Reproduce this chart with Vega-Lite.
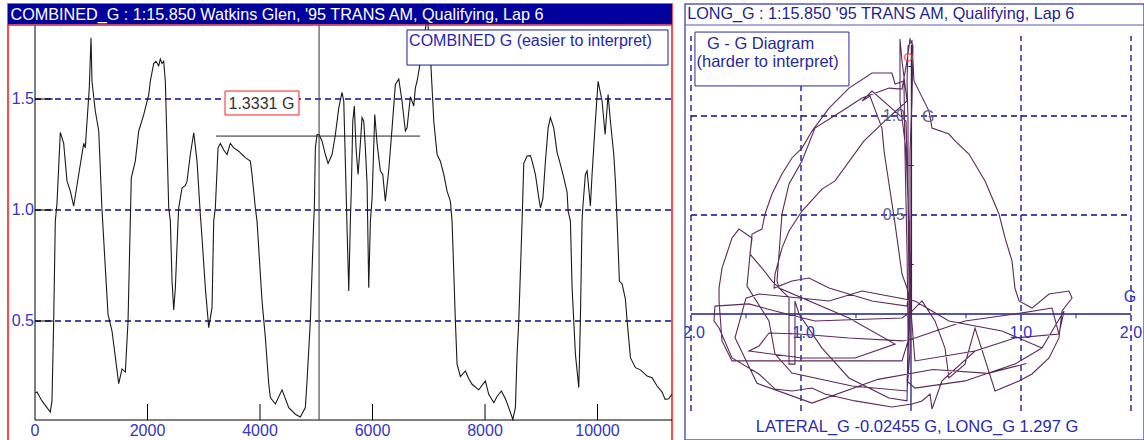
{
  "$schema": "https://vega.github.io/schema/vega-lite/v6.json",
  "background": "white",
  "padding": {"left": 6, "top": 3, "right": 0, "bottom": 0},
  "spacing": 13,
  "bounds": "flush",
  "config": {"font": "Liberation Sans", "view": {"stroke": null}},
  "hconcat": [
    {
      "width": 664,
      "height": 437,
      "view": {"stroke": "#ff1010", "strokeWidth": 1.5},
      "layer": [
        {
          "data": {"values": [{"g": 0.5}, {"g": 1.0}, {"g": 1.5}]},
          "mark": {"type": "rule", "color": "#0c0c8c", "strokeDash": [6, 4], "strokeWidth": 1.3},
          "encoding": {
            "y": {"field": "g", "type": "quantitative", "scale": {"domain": [-0.0405, 1.928], "nice": false, "zero": false}, "axis": null},
            "x": {"datum": 0, "scale": {"domain": [-480, 11324], "nice": false, "zero": false}, "axis": null},
            "x2": {"datum": 11330}
          }
        },
        {
          "data": {"values": [
            {"d":5,"g":0.177},{"d":36,"g":0.18},{"d":124,"g":0.14},{"d":213,"g":0.11},{"d":272,"g":0.09},{"d":302,"g":0.14},{"d":332,"g":0.5},{"d":361,"g":0.95},{"d":391,"g":1.03},{"d":450,"g":1.35},{"d":510,"g":1.30},{"d":569,"g":1.13},{"d":628,"g":1.085},{"d":688,"g":1.018},{"d":777,"g":1.16},{"d":866,"g":1.30},{"d":894,"g":1.28},{"d":925,"g":1.40},{"d":965,"g":1.55},{"d":996,"g":1.776},{"d":1013,"g":1.58},{"d":1072,"g":1.446},{"d":1133,"g":1.356},{"d":1191,"g":1.0},{"d":1298,"g":0.53},{"d":1369,"g":0.455},{"d":1488,"g":0.218},{"d":1547,"g":0.284},{"d":1606,"g":0.27},{"d":1654,"g":0.5},{"d":1694,"g":0.95},{"d":1712,"g":1.145},{"d":1783,"g":1.22},{"d":1844,"g":1.356},{"d":1933,"g":1.43},{"d":2022,"g":1.52},{"d":2050,"g":1.58},{"d":2110,"g":1.66},{"d":2151,"g":1.67},{"d":2199,"g":1.65},{"d":2228,"g":1.68},{"d":2258,"g":1.66},{"d":2288,"g":1.67},{"d":2317,"g":1.58},{"d":2377,"g":1.01},{"d":2406,"g":0.95},{"d":2436,"g":0.68},{"d":2466,"g":0.55},{"d":2495,"g":0.65},{"d":2543,"g":0.95},{"d":2555,"g":1.01},{"d":2614,"g":1.10},{"d":2672,"g":1.11},{"d":2703,"g":1.13},{"d":2761,"g":1.25},{"d":2822,"g":1.348},{"d":2880,"g":1.22},{"d":2939,"g":0.98},{"d":2969,"g":0.875},{"d":3028,"g":0.65},{"d":3088,"g":0.47},{"d":3147,"g":0.56},{"d":3177,"g":0.95},{"d":3206,"g":1.01},{"d":3254,"g":1.28},{"d":3295,"g":1.30},{"d":3355,"g":1.27},{"d":3414,"g":1.25},{"d":3472,"g":1.30},{"d":3533,"g":1.28},{"d":3622,"g":1.265},{"d":3681,"g":1.25},{"d":3739,"g":1.236},{"d":3828,"g":1.22},{"d":3858,"g":1.16},{"d":3917,"g":1.01},{"d":3947,"g":0.95},{"d":4036,"g":0.59},{"d":4095,"g":0.425},{"d":4155,"g":0.216},{"d":4184,"g":0.155},{"d":4273,"g":0.126},{"d":4392,"g":0.19},{"d":4511,"g":0.11},{"d":4628,"g":0.08},{"d":4717,"g":0.068},{"d":4806,"g":0.11},{"d":4836,"g":0.23},{"d":4895,"g":0.5},{"d":4955,"g":0.95},{"d":4966,"g":1.01},{"d":4984,"g":1.28},{"d":5014,"g":1.34},{"d":5050,"g":1.34},{"d":5103,"g":1.31},{"d":5162,"g":1.25},{"d":5210,"g":1.21},{"d":5281,"g":1.25},{"d":5340,"g":1.34},{"d":5400,"g":1.46},{"d":5458,"g":1.53},{"d":5489,"g":1.49},{"d":5517,"g":1.22},{"d":5547,"g":0.92},{"d":5578,"g":0.635},{"d":5606,"g":0.95},{"d":5624,"g":1.1},{"d":5649,"g":1.40},{"d":5677,"g":1.468},{"d":5707,"g":1.28},{"d":5743,"g":1.16},{"d":5784,"g":1.30},{"d":5814,"g":1.416},{"d":5844,"g":1.40},{"d":5873,"g":1.28},{"d":5903,"g":1.12},{"d":5933,"g":0.65},{"d":5962,"g":0.95},{"d":5992,"g":1.05},{"d":6040,"g":1.43},{"d":6081,"g":1.30},{"d":6140,"g":1.176},{"d":6182,"g":1.16},{"d":6228,"g":1.04},{"d":6289,"g":1.18},{"d":6348,"g":1.37},{"d":6406,"g":1.566},{"d":6467,"g":1.59},{"d":6525,"g":1.49},{"d":6584,"g":1.356},{"d":6614,"g":1.37},{"d":6673,"g":1.51},{"d":6703,"g":1.49},{"d":6733,"g":1.468},{"d":6762,"g":1.55},{"d":6792,"g":1.58},{"d":6833,"g":1.64},{"d":6868,"g":1.70},{"d":6916,"g":1.78},{"d":6975,"g":1.87},{"d":7028,"g":1.70},{"d":7059,"g":1.55},{"d":7089,"g":1.40},{"d":7148,"g":1.25},{"d":7206,"g":1.22},{"d":7267,"g":1.16},{"d":7325,"g":1.085},{"d":7384,"g":1.04},{"d":7414,"g":0.95},{"d":7444,"g":0.725},{"d":7473,"g":0.5},{"d":7503,"g":0.306},{"d":7562,"g":0.25},{"d":7651,"g":0.275},{"d":7711,"g":0.24},{"d":7770,"g":0.215},{"d":7889,"g":0.19},{"d":8006,"g":0.23},{"d":8066,"g":0.17},{"d":8156,"g":0.132},{"d":8214,"g":0.16},{"d":8291,"g":0.185},{"d":8362,"g":0.15},{"d":8422,"g":0.11},{"d":8494,"g":0.057},{"d":8540,"g":0.11},{"d":8570,"g":0.35},{"d":8600,"g":0.5},{"d":8659,"g":0.95},{"d":8689,"g":1.21},{"d":8748,"g":1.243},{"d":8807,"g":1.245},{"d":8837,"g":1.22},{"d":8896,"g":1.16},{"d":8956,"g":1.055},{"d":8986,"g":1.01},{"d":9028,"g":1.05},{"d":9074,"g":1.22},{"d":9122,"g":1.37},{"d":9162,"g":1.416},{"d":9222,"g":1.37},{"d":9281,"g":1.26},{"d":9340,"g":1.206},{"d":9400,"g":1.146},{"d":9459,"g":1.08},{"d":9477,"g":0.995},{"d":9518,"g":0.95},{"d":9548,"g":0.65},{"d":9607,"g":0.35},{"d":9667,"g":0.2},{"d":9695,"g":0.5},{"d":9725,"g":0.95},{"d":9738,"g":1.01},{"d":9784,"g":1.16},{"d":9815,"g":1.176},{"d":9873,"g":1.018},{"d":9903,"g":1.16},{"d":9962,"g":1.40},{"d":10010,"g":1.58},{"d":10081,"g":1.49},{"d":10135,"g":1.34},{"d":10188,"g":1.52},{"d":10229,"g":1.40},{"d":10289,"g":1.25},{"d":10318,"g":1.13},{"d":10348,"g":0.95},{"d":10389,"g":0.68},{"d":10437,"g":0.667},{"d":10495,"g":0.6},{"d":10526,"g":0.5},{"d":10585,"g":0.335},{"d":10674,"g":0.29},{"d":10763,"g":0.28},{"d":10881,"g":0.252},{"d":10970,"g":0.245},{"d":11059,"g":0.207},{"d":11148,"g":0.18},{"d":11202,"g":0.147},{"d":11267,"g":0.15},{"d":11320,"g":0.17}
          ]},
          "mark": {"type": "line", "color": "#1a1a1a", "strokeWidth": 1.1},
          "encoding": {
            "x": {"field": "d", "type": "quantitative", "axis": null},
            "y": {"field": "g", "type": "quantitative", "axis": null}
          }
        },
        {
          "data": {"values": [{}]},
          "mark": {"type": "rule", "color": "#000000", "strokeWidth": 1},
          "encoding": {"x": {"datum": 0, "axis": null}, "y": {"datum": 0.054, "axis": null}, "y2": {"datum": 1.833}}
        },
        {
          "data": {"values": [{}]},
          "mark": {"type": "rule", "color": "#000000", "strokeWidth": 1},
          "encoding": {"x": {"datum": 0, "axis": null}, "x2": {"datum": 11324}, "y": {"datum": 0.054, "axis": null}}
        },
        {
          "data": {"values": [{"d": 2000}, {"d": 4000}, {"d": 6000}, {"d": 8000}, {"d": 10000}]},
          "mark": {"type": "rule", "color": "#000000", "strokeWidth": 1},
          "encoding": {"x": {"field": "d", "type": "quantitative", "axis": null}, "y": {"datum": 0.054, "axis": null}, "y2": {"datum": 0.126}}
        },
        {
          "data": {"values": [{"g": 0.5}, {"g": 1.0}, {"g": 1.5}]},
          "mark": {"type": "rule", "color": "#000000", "strokeWidth": 1},
          "encoding": {"y": {"field": "g", "type": "quantitative", "axis": null}, "x": {"datum": 0, "axis": null}, "x2": {"datum": 320}}
        },
        {
          "data": {"values": [{"d": 0, "t": "0"}, {"d": 2000, "t": "2000"}, {"d": 4000, "t": "4000"}, {"d": 6000, "t": "6000"}, {"d": 8000, "t": "8000"}, {"d": 10000, "t": "10000"}]},
          "mark": {"type": "text", "color": "#3434c4", "fontSize": 16, "align": "center", "baseline": "middle", "font": "Liberation Sans"},
          "encoding": {"text": {"field": "t"}, "x": {"field": "d", "type": "quantitative", "axis": null}, "y": {"datum": 0.004, "axis": null}}
        },
        {
          "data": {"values": [{"g": 0.5, "t": "0.5"}, {"g": 1.0, "t": "1.0"}, {"g": 1.5, "t": "1.5"}]},
          "mark": {"type": "text", "color": "#3434c4", "fontSize": 16, "align": "right", "baseline": "middle", "font": "Liberation Sans"},
          "encoding": {"text": {"field": "t"}, "y": {"field": "g", "type": "quantitative", "axis": null}, "x": {"datum": -20, "axis": null}}
        },
        {
          "data": {"values": [{"d": 5050}]},
          "mark": {"type": "rule", "color": "#505050", "strokeWidth": 1.2},
          "encoding": {"x": {"field": "d", "type": "quantitative", "axis": null}, "y": {"datum": 0.054, "axis": null}, "y2": {"datum": 1.833}}
        },
        {
          "data": {"values": [{"g": 1.3331}]},
          "mark": {"type": "rule", "color": "#202020", "strokeWidth": 1},
          "encoding": {"y": {"field": "g", "type": "quantitative", "axis": null}, "x": {"datum": 3218, "axis": null}, "x2": {"datum": 6845}}
        },
        {
          "data": {"values": [{}]},
          "mark": {"type": "rect", "color": "#00009c"},
          "encoding": {"x": {"datum": -480, "axis": null}, "x2": {"datum": 11324}, "y": {"datum": 1.8356, "axis": null}, "y2": {"datum": 1.928}}
        },
        {
          "data": {"values": [{}]},
          "mark": {"type": "rule", "color": "#ff1010", "strokeWidth": 1.2},
          "encoding": {"x": {"datum": -480, "axis": null}, "x2": {"datum": 11324}, "y": {"datum": 1.833, "axis": null}}
        },
        {
          "data": {"values": [{"t": "COMBINED_G : 1:15.850 Watkins Glen, '95 TRANS AM, Qualifying, Lap 6"}]},
          "mark": {"type": "text", "color": "#ffffff", "fontSize": 16.2, "align": "left", "baseline": "middle", "font": "Liberation Sans"},
          "encoding": {"text": {"field": "t"}, "x": {"datum": -436, "axis": null}, "y": {"datum": 1.8806, "axis": null}}
        },
        {
          "data": {"values": [{}]},
          "mark": {"type": "rect", "fill": "#ffffff", "stroke": "#1c1c9c", "strokeWidth": 1},
          "encoding": {"x": {"datum": 6613, "axis": null}, "x2": {"datum": 11253}, "y": {"datum": 1.653, "axis": null}, "y2": {"datum": 1.811}}
        },
        {
          "data": {"values": [{"t": "COMBINED G (easier to interpret)"}]},
          "mark": {"type": "text", "color": "#2626b4", "fontSize": 16, "align": "left", "baseline": "middle", "font": "Liberation Sans"},
          "encoding": {"text": {"field": "t"}, "x": {"datum": 6650, "axis": null}, "y": {"datum": 1.76, "axis": null}}
        },
        {
          "data": {"values": [{}]},
          "mark": {"type": "rect", "fill": "#ffffff", "stroke": "#ff2020", "strokeWidth": 1},
          "encoding": {"x": {"datum": 3378, "axis": null}, "x2": {"datum": 4693}, "y": {"datum": 1.428, "axis": null}, "y2": {"datum": 1.536}}
        },
        {
          "data": {"values": [{"t": "1.3331 G"}]},
          "mark": {"type": "text", "color": "#333333", "fontSize": 16, "align": "left", "baseline": "middle", "font": "Liberation Sans"},
          "encoding": {"text": {"field": "t"}, "x": {"datum": 3440, "axis": null}, "y": {"datum": 1.479, "axis": null}}
        }
      ]
    },
    {
      "width": 459,
      "height": 436,
      "view": {"stroke": "#5a5ab4", "strokeWidth": 1.5},
      "layer": [
        {
          "data": {"values": [{"lat": -2}, {"lat": -1}, {"lat": 1}, {"lat": 2}]},
          "mark": {"type": "rule", "color": "#0c0c8c", "strokeDash": [6, 4], "strokeWidth": 1.3},
          "encoding": {
            "x": {"field": "lat", "type": "quantitative", "scale": {"domain": [-2.0545, 2.1182], "nice": false, "zero": false}, "axis": null},
            "y": {"datum": -0.49, "scale": {"domain": [-0.6364, 1.5657], "nice": false, "zero": false}, "axis": null},
            "y2": {"datum": 1.404}
          }
        },
        {
          "data": {"values": [{"lng": 0.5}, {"lng": 1.0}]},
          "mark": {"type": "rule", "color": "#0c0c8c", "strokeDash": [6, 4], "strokeWidth": 1.3},
          "encoding": {"y": {"field": "lng", "type": "quantitative", "axis": null}, "x": {"datum": -2, "axis": null}, "x2": {"datum": 2}}
        },
        {
          "data": {"values": [{}]},
          "mark": {"type": "rule", "color": "#1e1e90", "strokeWidth": 1.4},
          "encoding": {"y": {"datum": 0, "axis": null}, "x": {"datum": -2, "axis": null}, "x2": {"datum": 2}}
        },
        {
          "data": {"values": [{}]},
          "mark": {"type": "rule", "color": "#1e1e90", "strokeWidth": 1.3},
          "encoding": {"x": {"datum": 0, "axis": null}, "y": {"datum": -0.49, "axis": null}, "y2": {"datum": 0}}
        },
        {
          "data": {"values": [{}]},
          "mark": {"type": "rule", "color": "#3a1f48", "strokeWidth": 1.3},
          "encoding": {"x": {"datum": 0.004, "axis": null}, "y": {"datum": 0, "axis": null}, "y2": {"datum": 1.36}}
        },
        {
          "data": {"values": [{"lat": -1.5}, {"lat": -0.5}, {"lat": 0.5}, {"lat": 1.5}]},
          "mark": {"type": "rule", "color": "#1e1e90", "strokeWidth": 1},
          "encoding": {"x": {"field": "lat", "type": "quantitative", "axis": null}, "y": {"datum": 0, "axis": null}, "y2": {"datum": -0.022}}
        },
        {
          "data": {"values": [{"lng": 0.25}, {"lng": 0.75}, {"lng": 1.25}]},
          "mark": {"type": "rule", "color": "#1e1e90", "strokeWidth": 1},
          "encoding": {"y": {"field": "lng", "type": "quantitative", "axis": null}, "x": {"datum": -0.025, "axis": null}, "x2": {"datum": 0.025}}
        },
        {
          "data": {"values": [
            {"i":1,"lat":1.191,"lng":-0.172},{"i":2,"lat":0.945,"lng":-0.253},{"i":3,"lat":0.491,"lng":-0.338},{"i":4,"lat":0.036,"lng":-0.374},{"i":5,"lat":-0.036,"lng":-0.338},{"i":6,"lat":-0.027,"lng":-0.237},{"i":7,"lat":-0.018,"lng":-0.035},{"i":8,"lat":-0.018,"lng":0.318},{"i":9,"lat":-0.027,"lng":0.672},{"i":10,"lat":-0.027,"lng":0.975},
            {"i":11,"lat":-0.036,"lng":1.177},{"i":12,"lat":-0.027,"lng":1.354},{"i":13,"lat":0.009,"lng":1.379},{"i":14,"lat":0.027,"lng":1.177},{"i":15,"lat":0.164,"lng":1.025},{"i":16,"lat":0.191,"lng":0.939},{"i":17,"lat":0.345,"lng":0.909},{"i":18,"lat":0.4,"lng":0.874},{"i":19,"lat":0.527,"lng":0.808},{"i":20,"lat":0.673,"lng":0.672},
            {"i":21,"lat":0.8,"lng":0.505},{"i":22,"lat":0.855,"lng":0.384},{"i":23,"lat":0.918,"lng":0.268},{"i":24,"lat":0.945,"lng":0.131},{"i":25,"lat":0.982,"lng":0.066},{"i":26,"lat":1.1,"lng":0.03},{"i":27,"lat":1.255,"lng":0.101},{"i":28,"lat":1.436,"lng":0.116},{"i":29,"lat":1.464,"lng":0.081},{"i":30,"lat":1.373,"lng":0.015},
            {"i":31,"lat":1.345,"lng":-0.121},{"i":32,"lat":1.255,"lng":-0.222},{"i":33,"lat":1.1,"lng":-0.303},{"i":34,"lat":0.982,"lng":-0.338},{"i":35,"lat":0.764,"lng":-0.389},{"i":36,"lat":0.582,"lng":-0.071},{"i":37,"lat":0.491,"lng":-0.253},{"i":38,"lat":0.345,"lng":-0.323},{"i":39,"lat":0.309,"lng":-0.172},{"i":40,"lat":0.218,"lng":-0.035},
            {"i":41,"lat":0.1,"lng":0.066},{"i":42,"lat":0.009,"lng":0.015},{"i":43,"lat":-0.082,"lng":-0.02},{"i":44,"lat":-0.355,"lng":-0.025},{"i":45,"lat":-0.873,"lng":-0.035},{"i":46,"lat":-1.236,"lng":0.015},{"i":47,"lat":-1.473,"lng":0.051},{"i":48,"lat":-1.782,"lng":0.04},{"i":49,"lat":-1.791,"lng":-0.035},{"i":50,"lat":-1.745,"lng":-0.071},
            {"i":51,"lat":-1.627,"lng":-0.222},{"i":52,"lat":-1.382,"lng":-0.303},{"i":53,"lat":-1.236,"lng":-0.379},{"i":54,"lat":-1.082,"lng":-0.389},{"i":55,"lat":-0.9,"lng":-0.374},{"i":56,"lat":-0.782,"lng":-0.404},{"i":57,"lat":-0.509,"lng":-0.439},{"i":58,"lat":-0.173,"lng":-0.47},{"i":59,"lat":0.009,"lng":-0.455},{"i":60,"lat":0.1,"lng":-0.439},
            {"i":61,"lat":0.173,"lng":-0.404},{"i":62,"lat":0.191,"lng":-0.48},{"i":63,"lat":0.282,"lng":-0.338},{"i":64,"lat":0.582,"lng":-0.187},{"i":65,"lat":0.945,"lng":-0.121},{"i":66,"lat":1.345,"lng":-0.101},{"i":67,"lat":1.282,"lng":0.03},{"i":68,"lat":0.945,"lng":0.0},{"i":69,"lat":0.491,"lng":-0.035},{"i":70,"lat":0.036,"lng":-0.121},
            {"i":71,"lat":-0.082,"lng":-0.136},{"i":72,"lat":-0.564,"lng":-0.121},{"i":73,"lat":-1.018,"lng":-0.101},{"i":74,"lat":-1.291,"lng":-0.096},{"i":75,"lat":-1.382,"lng":-0.162},{"i":76,"lat":-1.473,"lng":-0.187},{"i":77,"lat":-0.991,"lng":-0.222},{"i":78,"lat":-0.509,"lng":-0.222},{"i":79,"lat":-0.145,"lng":-0.152},{"i":80,"lat":-0.564,"lng":-0.02},
            {"i":81,"lat":-1.2,"lng":0.131},{"i":82,"lat":-1.218,"lng":0.167},{"i":83,"lat":-1.191,"lng":0.369},{"i":84,"lat":-1.173,"lng":0.505},{"i":85,"lat":-1.109,"lng":0.657},{"i":86,"lat":-0.991,"lng":0.773},{"i":87,"lat":-0.873,"lng":0.939},{"i":88,"lat":-0.627,"lng":1.025},{"i":89,"lat":-0.445,"lng":1.091},{"i":90,"lat":-0.2,"lng":1.141},
            {"i":91,"lat":-0.082,"lng":1.136},{"i":92,"lat":-0.036,"lng":1.278},{"i":93,"lat":-0.009,"lng":1.389},{"i":94,"lat":0.018,"lng":1.354},{"i":95,"lat":0.009,"lng":1.076},{"i":96,"lat":-0.009,"lng":0.823},{"i":97,"lat":-0.009,"lng":0.419},{"i":98,"lat":0.0,"lng":0.066},{"i":99,"lat":-0.027,"lng":-0.136},{"i":100,"lat":-0.082,"lng":-0.237},
            {"i":101,"lat":-0.718,"lng":-0.237},{"i":102,"lat":-1.173,"lng":-0.237},{"i":103,"lat":-1.627,"lng":-0.237},{"i":104,"lat":-1.718,"lng":-0.136},{"i":105,"lat":-1.745,"lng":0.066},{"i":106,"lat":-1.745,"lng":0.131},{"i":107,"lat":-1.718,"lng":0.232},{"i":108,"lat":-1.627,"lng":0.384},{"i":109,"lat":-1.564,"lng":0.429},{"i":110,"lat":-1.445,"lng":0.384},
            {"i":111,"lat":-1.464,"lng":0.303},{"i":112,"lat":-1.355,"lng":0.232},{"i":113,"lat":-1.264,"lng":0.167},{"i":114,"lat":-1.109,"lng":0.081},{"i":115,"lat":-1.109,"lng":-0.253},{"i":116,"lat":-1.055,"lng":-0.253},{"i":117,"lat":-1.055,"lng":0.066},{"i":118,"lat":-1.018,"lng":0.0},{"i":119,"lat":-0.809,"lng":-0.172},{"i":120,"lat":-0.564,"lng":-0.323},
            {"i":121,"lat":-0.2,"lng":-0.424},{"i":122,"lat":-0.036,"lng":-0.439},{"i":123,"lat":-0.027,"lng":-0.086},{"i":124,"lat":-0.036,"lng":0.318},{"i":125,"lat":-0.055,"lng":0.823},{"i":126,"lat":-0.064,"lng":1.177},{"i":127,"lat":-0.145,"lng":1.162},{"i":128,"lat":-0.173,"lng":1.217},{"i":129,"lat":-0.355,"lng":1.217},{"i":130,"lat":-0.564,"lng":1.141},
            {"i":131,"lat":-0.745,"lng":1.04},{"i":132,"lat":-0.9,"lng":0.924},{"i":133,"lat":-0.991,"lng":0.838},{"i":134,"lat":-1.082,"lng":0.788},{"i":135,"lat":-1.173,"lng":0.707},{"i":136,"lat":-1.264,"lng":0.606},{"i":137,"lat":-1.327,"lng":0.505},{"i":138,"lat":-1.355,"lng":0.429},{"i":139,"lat":-1.445,"lng":0.404},{"i":140,"lat":-1.491,"lng":0.141},
            {"i":141,"lat":-1.291,"lng":-0.035},{"i":142,"lat":-1.236,"lng":-0.202},{"i":143,"lat":-1.082,"lng":-0.298},{"i":144,"lat":-0.536,"lng":-0.364},{"i":145,"lat":-0.036,"lng":-0.389},{"i":146,"lat":-0.009,"lng":-0.187},{"i":147,"lat":-0.009,"lng":0.318},{"i":148,"lat":-0.045,"lng":0.823},{"i":149,"lat":-0.1,"lng":1.076},{"i":150,"lat":-0.1,"lng":1.389},
            {"i":151,"lat":-0.082,"lng":1.278},{"i":152,"lat":-0.036,"lng":1.076},{"i":153,"lat":-0.218,"lng":0.985},{"i":154,"lat":-0.427,"lng":0.874},{"i":155,"lat":-0.691,"lng":0.672},{"i":156,"lat":-0.809,"lng":0.631},{"i":157,"lat":-0.991,"lng":0.52},{"i":158,"lat":-1.109,"lng":0.419},{"i":159,"lat":-1.173,"lng":0.333},{"i":160,"lat":-1.236,"lng":0.202},
            {"i":161,"lat":-1.245,"lng":0.131},{"i":162,"lat":-1.082,"lng":0.167},{"i":163,"lat":-0.927,"lng":0.182},{"i":164,"lat":-0.745,"lng":0.131},{"i":165,"lat":-0.355,"lng":0.066},{"i":166,"lat":-0.036,"lng":0.04},{"i":167,"lat":-0.018,"lng":0.116},{"i":168,"lat":-0.027,"lng":0.571},{"i":169,"lat":-0.045,"lng":0.975},{"i":170,"lat":-0.355,"lng":1.126},
            {"i":171,"lat":-0.445,"lng":1.076},{"i":172,"lat":-0.373,"lng":1.101},{"i":173,"lat":-0.264,"lng":0.939},{"i":174,"lat":-0.245,"lng":0.823},{"i":175,"lat":-0.145,"lng":0.455},{"i":176,"lat":-0.082,"lng":0.202},{"i":177,"lat":-0.036,"lng":0.131},{"i":178,"lat":0.0,"lng":0.015},{"i":179,"lat":0.036,"lng":-0.237},{"i":180,"lat":0.582,"lng":-0.187},
            {"i":181,"lat":0.945,"lng":-0.121},{"i":182,"lat":1.345,"lng":-0.101},{"i":183,"lat":1.391,"lng":0.015},{"i":184,"lat":1.191,"lng":-0.172},{"i":185,"lat":0.827,"lng":-0.086},{"i":186,"lat":0.345,"lng":-0.035},{"i":187,"lat":0.036,"lng":0.066},{"i":188,"lat":-0.445,"lng":0.116},{"i":189,"lat":-0.745,"lng":0.066},{"i":190,"lat":-1.382,"lng":0.101},
            {"i":191,"lat":-1.5,"lng":0.08},{"i":192,"lat":-1.6,"lng":-0.12},{"i":193,"lat":-1.4,"lng":-0.35},{"i":194,"lat":-0.9,"lng":-0.45},{"i":195,"lat":-0.3,"lng":-0.33},{"i":196,"lat":0.2,"lng":-0.28},{"i":197,"lat":0.7,"lng":-0.3},{"i":198,"lat":1.05,"lng":-0.25}
          ]},
          "mark": {"type": "line", "color": "#5b2a5a", "strokeWidth": 1.1},
          "encoding": {
            "x": {"field": "lat", "type": "quantitative", "axis": null},
            "y": {"field": "lng", "type": "quantitative", "axis": null},
            "order": {"field": "i", "type": "quantitative"}
          }
        },
        {
          "data": {"values": [{"lat": -0.02455, "lng": 1.297}]},
          "mark": {"type": "point", "shape": "circle", "filled": false, "color": "#ff3030", "size": 55, "strokeWidth": 1.5},
          "encoding": {"x": {"field": "lat", "type": "quantitative", "axis": null}, "y": {"field": "lng", "type": "quantitative", "axis": null}}
        },
        {
          "data": {"values": [{}]},
          "mark": {"type": "rule", "color": "#5a5ab4", "strokeWidth": 1.2},
          "encoding": {"y": {"datum": 1.4596, "axis": null}, "x": {"datum": -2.0545, "axis": null}, "x2": {"datum": 2.1182}}
        },
        {
          "data": {"values": [{"t": "LONG_G : 1:15.850 '95 TRANS AM, Qualifying, Lap 6"}]},
          "mark": {"type": "text", "color": "#1f1f8f", "fontSize": 16.2, "align": "left", "baseline": "middle", "font": "Liberation Sans"},
          "encoding": {"text": {"field": "t"}, "x": {"datum": -2.035, "axis": null}, "y": {"datum": 1.515, "axis": null}}
        },
        {
          "data": {"values": [{}]},
          "mark": {"type": "rect", "fill": "#ffffff", "stroke": "#2a2a9a", "strokeWidth": 1},
          "encoding": {"x": {"datum": -1.964, "axis": null}, "x2": {"datum": -0.564}, "y": {"datum": 1.152, "axis": null}, "y2": {"datum": 1.424}}
        },
        {
          "data": {"values": [{"t": "G - G Diagram"}]},
          "mark": {"type": "text", "color": "#2a2a9a", "fontSize": 16.5, "align": "left", "baseline": "middle", "font": "Liberation Sans"},
          "encoding": {"text": {"field": "t"}, "x": {"datum": -1.855, "axis": null}, "y": {"datum": 1.362, "axis": null}}
        },
        {
          "data": {"values": [{"t": "(harder to interpret)"}]},
          "mark": {"type": "text", "color": "#2a2a9a", "fontSize": 16.5, "align": "left", "baseline": "middle", "font": "Liberation Sans"},
          "encoding": {"text": {"field": "t"}, "x": {"datum": -1.95, "axis": null}, "y": {"datum": 1.271, "axis": null}}
        },
        {
          "data": {"values": [{"lat": -2, "t": "-2.0"}, {"lat": -1, "t": "-1.0"}, {"lat": 1, "t": "1.0"}, {"lat": 2, "t": "2.0"}]},
          "mark": {"type": "text", "color": "#3434c4", "fontSize": 16, "align": "center", "baseline": "middle", "font": "Liberation Sans", "clip": true},
          "encoding": {"text": {"field": "t"}, "x": {"field": "lat", "type": "quantitative", "axis": null}, "y": {"datum": -0.096, "axis": null}}
        },
        {
          "data": {"values": [{"lng": 0.5, "t": "0.5"}, {"lng": 1.0, "t": "1.0"}]},
          "mark": {"type": "text", "color": "#5c5c8c", "fontSize": 16, "align": "right", "baseline": "middle", "font": "Liberation Sans", "dx": -6},
          "encoding": {"text": {"field": "t"}, "y": {"field": "lng", "type": "quantitative", "axis": null}, "x": {"datum": 0, "axis": null}}
        },
        {
          "data": {"values": [{"t": "G"}]},
          "mark": {"type": "text", "color": "#5c5c8c", "fontSize": 16, "align": "left", "baseline": "middle", "font": "Liberation Sans"},
          "encoding": {"text": {"field": "t"}, "x": {"datum": 0.1, "axis": null}, "y": {"datum": 0.995, "axis": null}}
        },
        {
          "data": {"values": [{"t": "G"}]},
          "mark": {"type": "text", "color": "#3434c4", "fontSize": 16, "align": "center", "baseline": "middle", "font": "Liberation Sans"},
          "encoding": {"text": {"field": "t"}, "x": {"datum": 1.99, "axis": null}, "y": {"datum": 0.086, "axis": null}}
        },
        {
          "data": {"values": [{"t": "LATERAL_G -0.02455 G, LONG_G 1.297 G"}]},
          "mark": {"type": "text", "color": "#2a2ab0", "fontSize": 16.5, "align": "center", "baseline": "middle", "font": "Liberation Sans"},
          "encoding": {"text": {"field": "t"}, "x": {"datum": 0.055, "axis": null}, "y": {"datum": -0.571, "axis": null}}
        }
      ]
    }
  ]
}
